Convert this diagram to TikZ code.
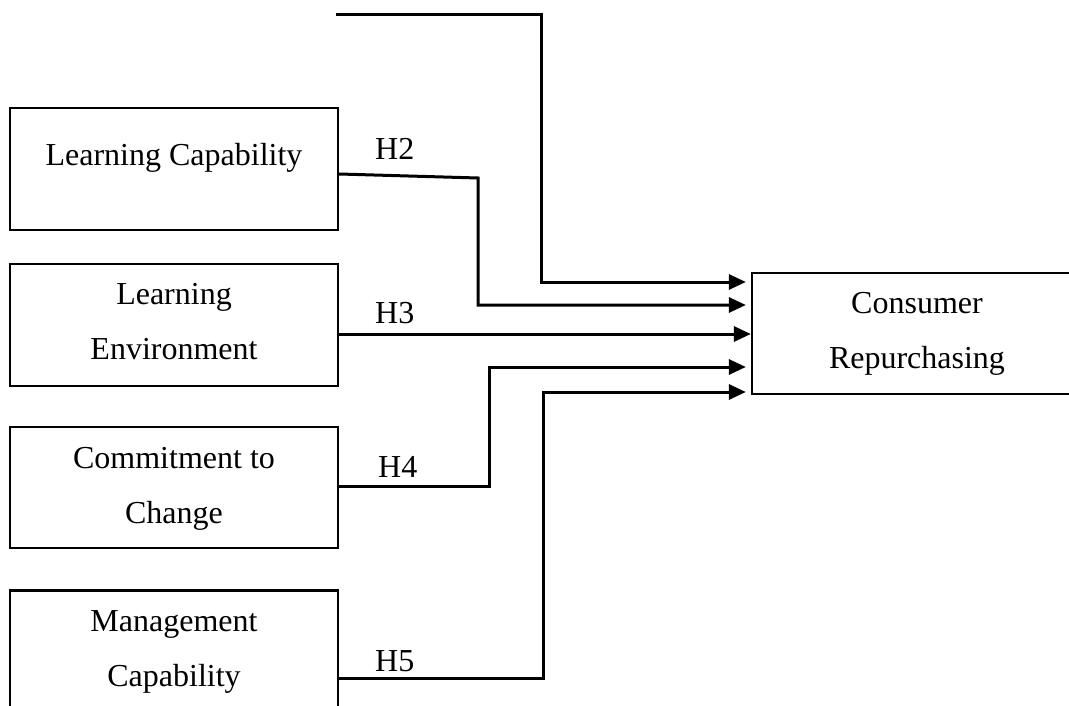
\documentclass[tikz,border=0pt]{standalone}
\usepackage{fontspec}
\setmainfont{Liberation Serif}
\usetikzlibrary{arrows.meta}
\begin{document}
\begin{tikzpicture}[x=1pt,y=-1pt,
  box/.style={draw=black,line width=2.3pt,rectangle,minimum width=328pt,inner sep=0pt,anchor=center},
  txt/.style={font=\fontsize{32}{38}\selectfont,anchor=base,inner sep=0pt},
  hyp/.style={font=\fontsize{32}{38}\selectfont,anchor=base west,inner sep=0pt},
  conn/.style={draw=black,line width=3pt},
  arr/.style={conn,-{Triangle[length=17pt,width=15pt]}}]
\useasboundingbox (0,0) rectangle (1069,706);
\clip (0,0) rectangle (1069,706);
\fill[white] (0,0) rectangle (1069,706);
% boxes
\node[box,minimum height=122pt] (lc) at (174,169) {};
\node[box,minimum height=122pt] (le) at (174,325) {};
\node[box,minimum height=121pt] (cc) at (174,487.5) {};
\node[box,minimum height=122pt] (mc) at (174,651.5) {};
\node[box,minimum width=330pt,minimum height=121pt] (cr) at (917,333.5) {};
% texts
\node[txt] (lct) at (174,166) {Learning Capability};
\node[txt] (let1) at (174,304) {Learning};
\node[txt] (let2) at (174,359) {Environment};
\node[txt] (cct1) at (174,468) {Commitment to};
\node[txt] (cct2) at (174,523) {Change};
\node[txt] (mct1) at (174,631) {Management};
\node[txt] (mct2) at (174,686) {Capability};
\node[txt] (crt1) at (917,313) {Consumer};
\node[txt] (crt2) at (917,368) {Repurchasing};
% hypothesis labels
\node[hyp] (h2) at (375,160) {H2};
\node[hyp] (h3) at (375,323) {H3};
\node[hyp] (h4) at (378,477) {H4};
\node[hyp] (h5) at (375,671) {H5};
% helper coordinates
\coordinate (top0) at (336,15);
\coordinate (top1) at (541,15);
\coordinate (h2a) at (478,178);
\coordinate (h4a) at (489,486);
\coordinate (h5a) at (543,678);
% connectors
\draw[arr,shorten >=5pt] (top0) -- (top1) -- (top1 |- 0,282) -- (cr.west |- 0,282);
\draw[arr,shorten >=5pt] (lc.east |- 0,174) -- (h2a) -- (h2a |- 0,305) -- (cr.west |- 0,305);
\draw[arr] (le.east |- 0,334) -- (cr.west |- 0,334);
\draw[arr,shorten >=5pt] (cc.east |- 0,486) -- (h4a) -- (h4a |- 0,367) -- (cr.west |- 0,367);
\draw[arr,shorten >=5pt] (mc.east |- 0,678) -- (h5a) -- (h5a |- 0,392) -- (cr.west |- 0,392);
\end{tikzpicture}
\end{document}
